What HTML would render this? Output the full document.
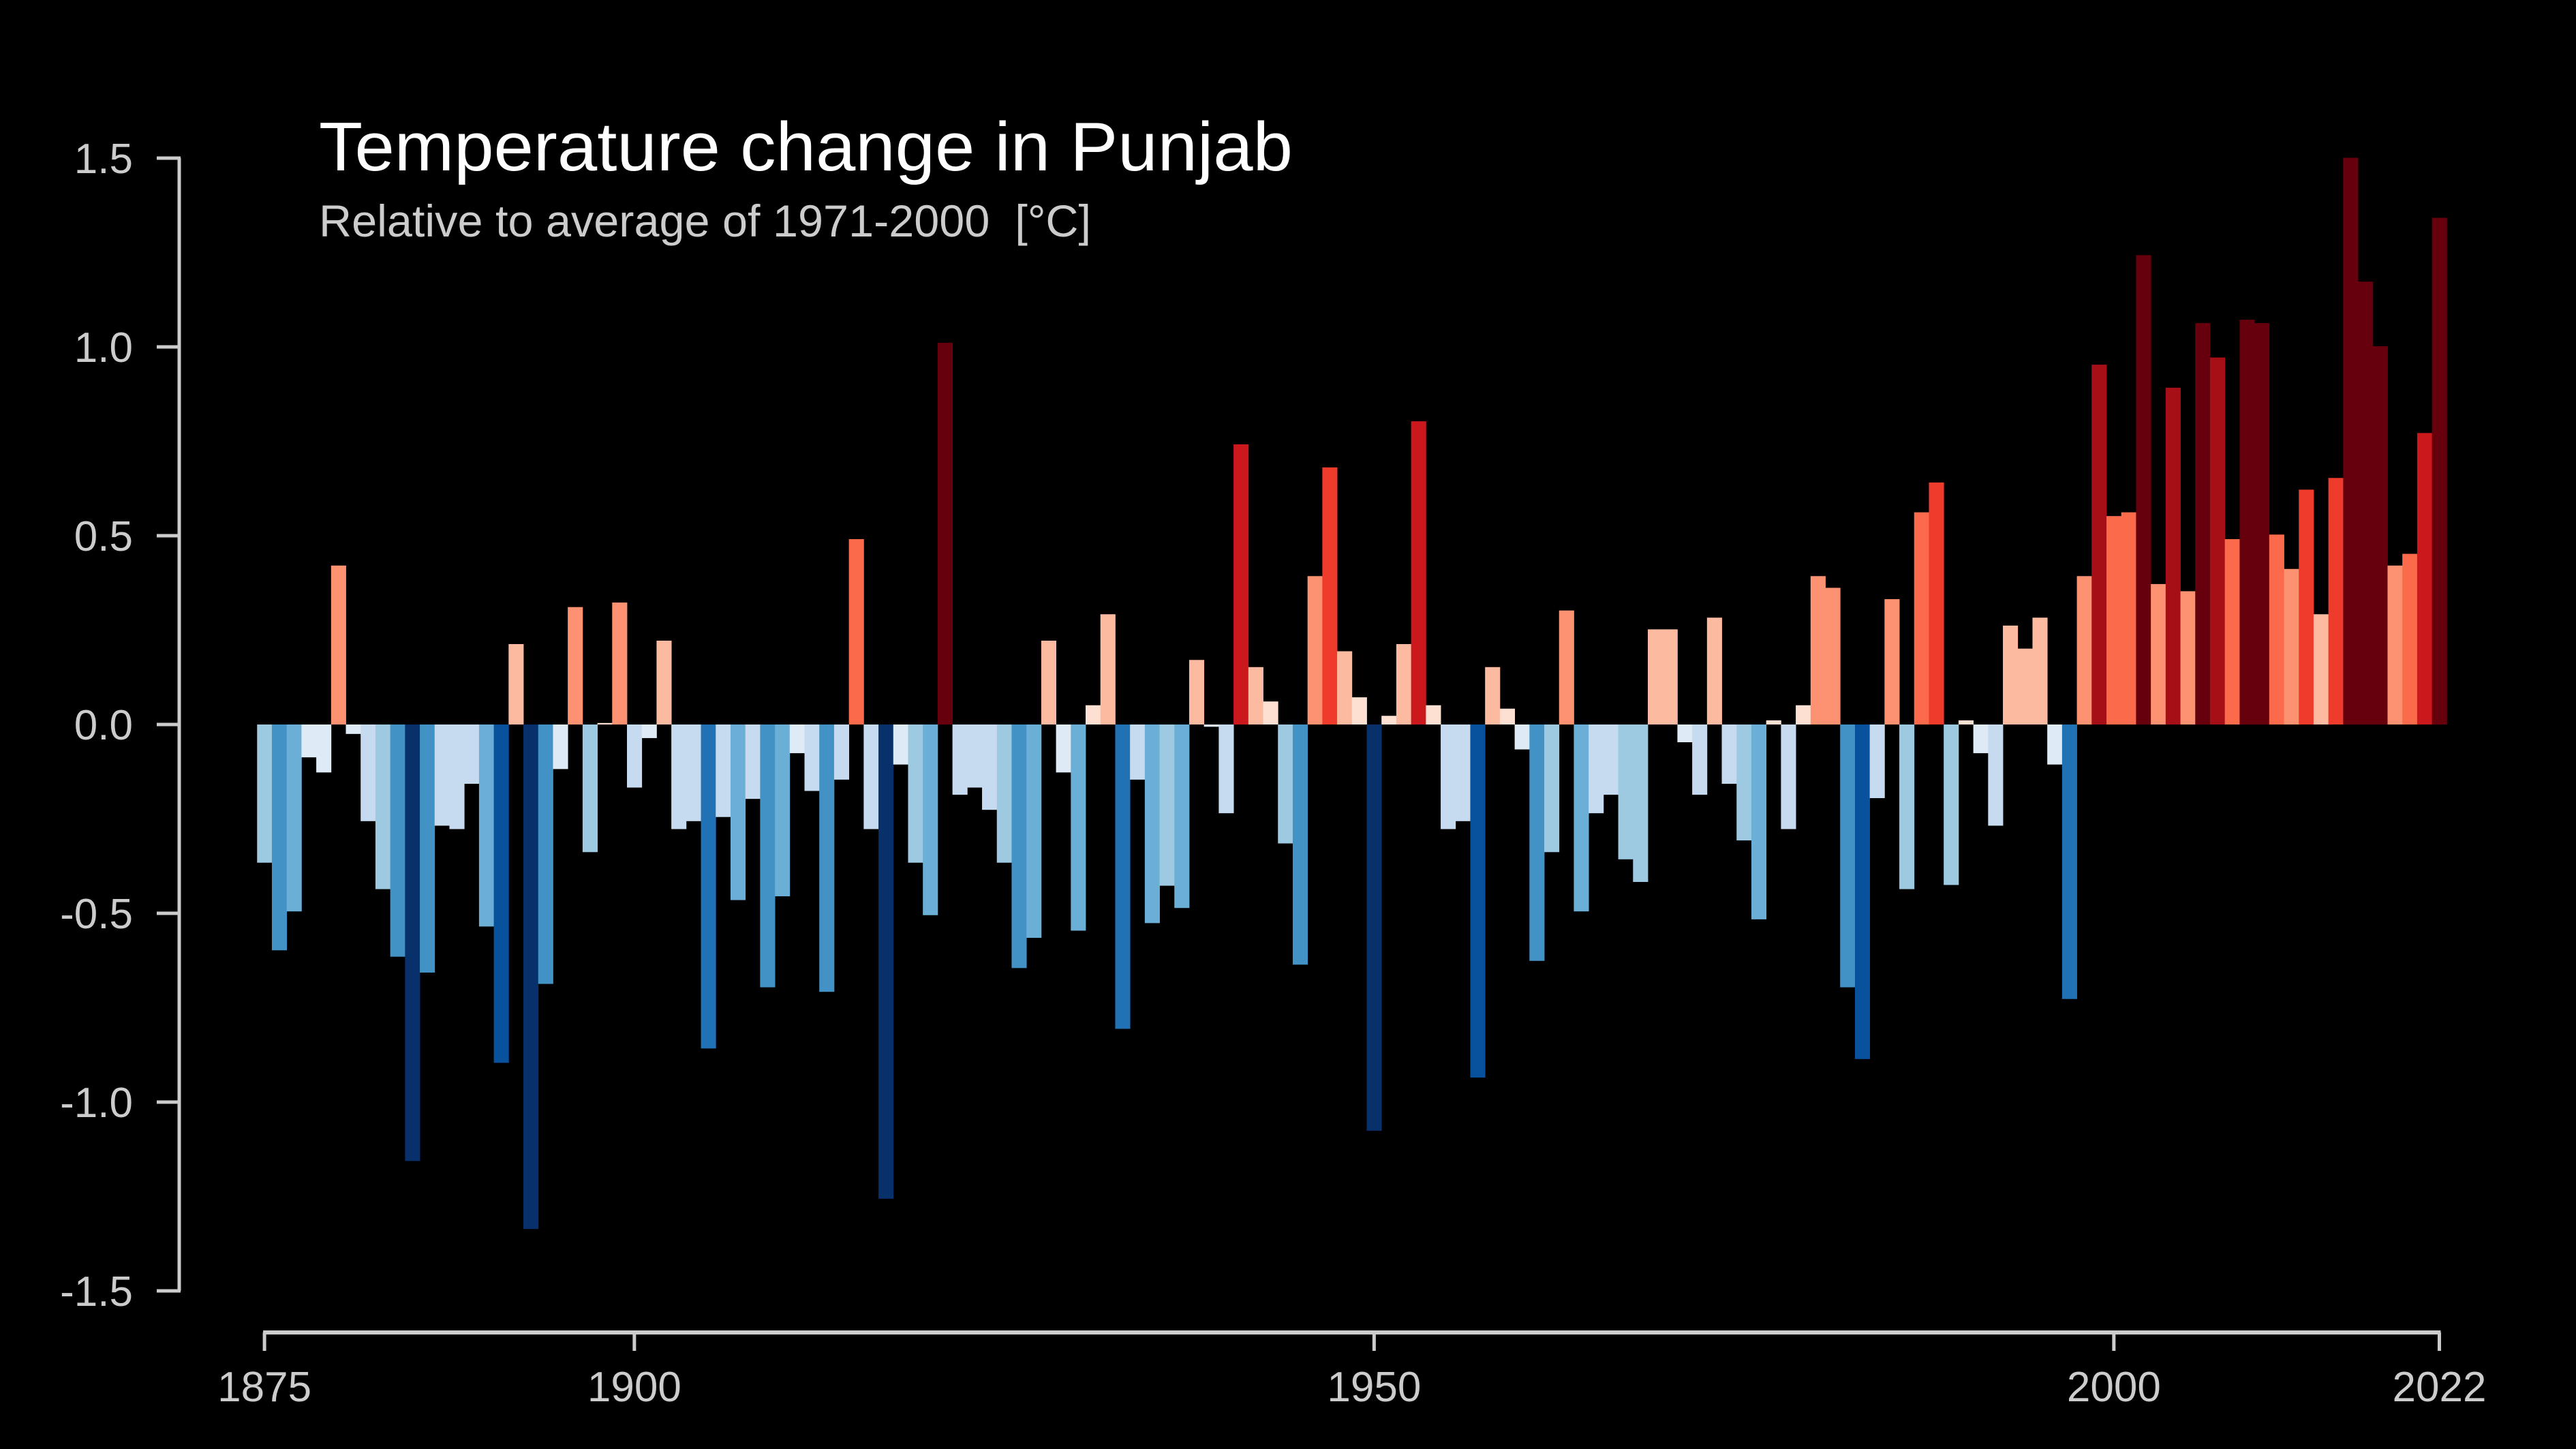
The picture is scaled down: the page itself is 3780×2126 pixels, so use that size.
<!DOCTYPE html>
<html><head><meta charset="utf-8"><style>
html,body{margin:0;padding:0;background:#000;}
svg{display:block;}
text{font-family:"Liberation Sans",sans-serif;}
</style></head><body>
<svg id="chart" width="3780" height="2126" viewBox="0 0 3780 2126" xmlns="http://www.w3.org/2000/svg">
<rect x="0" y="0" width="3780" height="2126" fill="#000"/>
<text x="468" y="250" font-size="101" fill="#fff" textLength="1429" lengthAdjust="spacingAndGlyphs">Temperature change in Punjab</text>
<text x="468" y="347" font-size="66" fill="#cccccc" textLength="1133" lengthAdjust="spacingAndGlyphs" xml:space="preserve">Relative to average of 1971-2000  [°C]</text>
<g id="bars"></g>
<g id="yaxis"></g>
<g id="xaxis"></g>
</svg>
<script>
const startYear = 1875;
const anomalies = [
-0.366,-0.598,-0.495,-0.087,-0.127,0.421,-0.025,-0.256,-0.436,-0.615,
-1.156,-0.657,-0.268,-0.277,-0.157,-0.535,-0.896,0.213,-1.336,-0.687,
-0.118,0.311,-0.338,0.004,0.323,-0.167,-0.036,0.222,-0.277,-0.256,
-0.858,-0.245,-0.465,-0.197,-0.696,-0.455,-0.076,-0.176,-0.708,-0.146,
0.491,-0.277,-1.256,-0.106,-0.366,-0.505,1.011,-0.186,-0.167,-0.226,
-0.366,-0.645,-0.565,0.222,-0.127,-0.546,0.051,0.292,-0.806,-0.146,
-0.526,-0.427,-0.486,0.171,-0.006,-0.235,0.742,0.152,0.061,-0.315,
-0.636,0.393,0.681,0.194,0.072,-1.076,0.023,0.213,0.803,0.051,
-0.277,-0.256,-0.935,0.152,0.042,-0.066,-0.626,-0.338,0.302,-0.495,
-0.235,-0.186,-0.357,-0.417,0.252,0.252,-0.047,-0.186,0.283,-0.157,
-0.307,-0.516,0.011,-0.277,0.051,0.393,0.362,-0.696,-0.886,-0.195,
0.332,-0.436,0.562,0.641,-0.425,0.011,-0.076,-0.268,0.262,0.201,
0.283,-0.106,-0.727,0.393,0.953,0.552,0.562,1.243,0.372,0.892,
0.353,1.063,0.972,0.491,1.072,1.063,0.503,0.412,0.622,0.292,
0.653,1.501,1.173,1.002,0.421,0.452,0.772,1.342
];
const yTicks = [1.5,1.0,0.5,0.0,-0.5,-1.0,-1.5];
const yTickLabels = ["1.5","1.0","0.5","0.0","-0.5","-1.0","-1.5"];
const xTicks = [1875,1900,1950,2000,2022];

const NS = "http://www.w3.org/2000/svg";
const X0 = 388.1, PX_PER_YEAR = 21.71, Y0 = 1063, PX_PER_UNIT = 554;
function xScale(year){ return X0 + (year - startYear) * PX_PER_YEAR; }
function yScale(v){ return Y0 - v * PX_PER_UNIT; }
const reds = ["#fee0d2","#fcbba1","#fc9272","#fb6a4a","#ef3b2c","#cb181d","#a50f15","#67000d"];
const blues = ["#deebf7","#c6dbef","#9ecae1","#6baed6","#4292c6","#2171b5","#08519c","#08306b"];
const edges = [0.145,0.298,0.445,0.59,0.72,0.88,0.99];
function colorFor(v){
  const a = Math.abs(v); let i = 0;
  while (i < edges.length && a >= edges[i]) i++;
  return v >= 0 ? reds[i] : blues[i];
}
function mk(tag, attrs){ const e = document.createElementNS(NS, tag); for (const k in attrs) e.setAttribute(k, attrs[k]); return e; }

const barsG = document.getElementById('bars');
anomalies.forEach((v, i) => {
  const year = startYear + i;
  const cx = xScale(year);
  const y1 = yScale(Math.max(v, 0)), y2 = yScale(Math.min(v, 0));
  const r = mk('rect', {x: (cx - PX_PER_YEAR/2).toFixed(2), y: y1.toFixed(2), width: (PX_PER_YEAR + 0.4).toFixed(2), height: Math.max(y2 - y1, 0.5).toFixed(2), fill: colorFor(v)});
  
  
  barsG.appendChild(r);
});

const yG = document.getElementById('yaxis');
const yLine = mk('line', {x1: 263, x2: 263, y1: yScale(yTicks[0]), y2: yScale(yTicks[yTicks.length-1]), stroke: '#cccccc', 'stroke-width': 5});


yG.appendChild(yLine);
yTicks.forEach((t, i) => {
  const y = yScale(t);
  const tk = mk('line', {x1: 230, x2: 265, y1: y, y2: y, stroke: '#cccccc', 'stroke-width': 5});
  
  
  yG.appendChild(tk);
  const lb = mk('text', {x: 195, y: y + 22, 'font-size': 62, fill: '#cccccc', 'text-anchor': 'end'});
  lb.textContent = yTickLabels[i];
  
  
  yG.appendChild(lb);
});

const xG = document.getElementById('xaxis');
const xLine = mk('line', {x1: xScale(xTicks[0]) - 2, x2: xScale(xTicks[xTicks.length-1]) + 2, y1: 1955, y2: 1955, stroke: '#cccccc', 'stroke-width': 6});


xG.appendChild(xLine);
xTicks.forEach(t => {
  const x = xScale(t);
  const tk = mk('line', {x1: x, x2: x, y1: 1955, y2: 1982, stroke: '#cccccc', 'stroke-width': 5});
  
  
  xG.appendChild(tk);
  const lb = mk('text', {x: x, y: 2056, 'font-size': 62, fill: '#cccccc', 'text-anchor': 'middle'});
  lb.textContent = String(t);
  
  
  xG.appendChild(lb);
});
</script>
</body></html>
